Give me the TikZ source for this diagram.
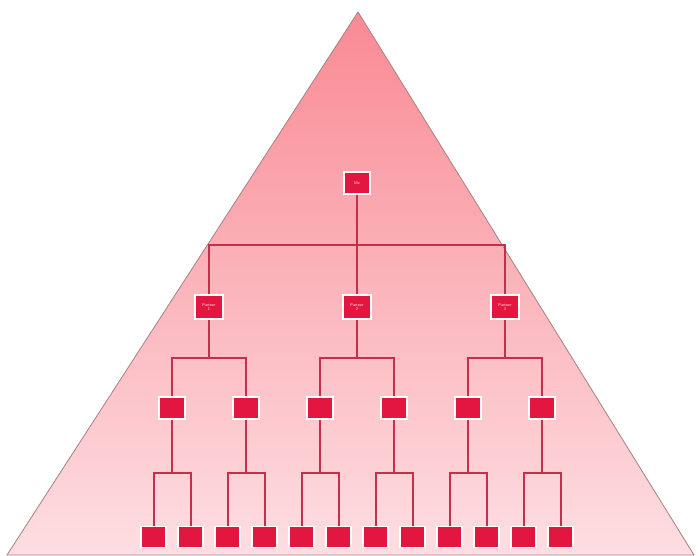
\documentclass[tikz,border=0pt]{standalone}
\usetikzlibrary{calc}
\definecolor{pyrtop}{RGB}{249,138,148}
\definecolor{pyrbot}{RGB}{253,222,226}
\definecolor{pyredge}{RGB}{168,128,128}
\definecolor{boxred}{RGB}{226,22,62}
\definecolor{linkred}{RGB}{196,48,76}

\begin{document}
\begin{tikzpicture}[x=1pt,y=1pt,
  level 1/.style={level distance=124pt,sibling distance=148pt},
  level 2/.style={level distance=101pt,sibling distance=74pt},
  level 3/.style={level distance=129pt,sibling distance=37pt},
  edge from parent/.style={draw=linkred,line width=2pt},
  edge from parent path={(\tikzparentnode.south) --
    ($(\tikzparentnode.south)!.5!(\tikzparentnode.south |- \tikzchildnode.north)$)
    -| (\tikzchildnode.north)}]
\tikzset{box/.style={rectangle,fill=boxred,draw=white,line width=1.5pt,
  minimum width=26pt,minimum height=22pt,inner sep=1pt,text=white,
  align=center,font=\sffamily\fontsize{4}{4.5}\selectfont}}
\useasboundingbox (0,0) rectangle (700,-555);
\fill[white] (0,0) rectangle (700,-555);
% pyramid
\shade[top color=pyrtop,bottom color=pyrbot,draw=pyredge,line width=0.8pt]
  (358,-12) -- (694,-555) -- (7,-555) -- cycle;
\node[box] (me) at (357,-183) {Me}
  child {node[box,minimum width=28pt,minimum height=24pt] (p1) {Partner\\1}
    child {node[box] {}
      child {node[box,minimum width=25pt,minimum height=21pt] {}}
      child {node[box,minimum width=25pt,minimum height=21pt] {}}
    }
    child {node[box] {}
      child {node[box,minimum width=25pt,minimum height=21pt] {}}
      child {node[box,minimum width=25pt,minimum height=21pt] {}}
    }
  }
  child {node[box,minimum width=28pt,minimum height=24pt] (p2) {Partner\\2}
    child {node[box] {}
      child {node[box,minimum width=25pt,minimum height=21pt] {}}
      child {node[box,minimum width=25pt,minimum height=21pt] {}}
    }
    child {node[box] {}
      child {node[box,minimum width=25pt,minimum height=21pt] {}}
      child {node[box,minimum width=25pt,minimum height=21pt] {}}
    }
  }
  child {node[box,minimum width=28pt,minimum height=24pt] (p3) {Partner\\3}
    child {node[box] {}
      child {node[box,minimum width=25pt,minimum height=21pt] {}}
      child {node[box,minimum width=25pt,minimum height=21pt] {}}
    }
    child {node[box] {}
      child {node[box,minimum width=25pt,minimum height=21pt] {}}
      child {node[box,minimum width=25pt,minimum height=21pt] {}}
    }
  };
\end{tikzpicture}
\end{document}
